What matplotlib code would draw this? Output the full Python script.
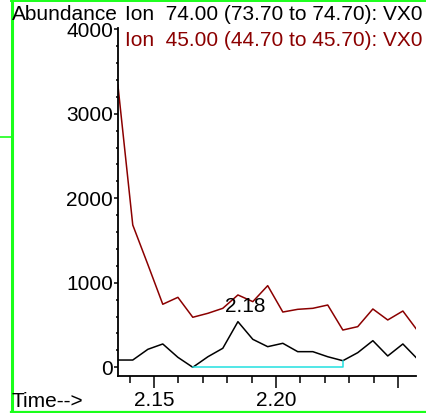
import matplotlib
matplotlib.use('Agg')
import matplotlib.pyplot as plt
from matplotlib.lines import Line2D
from matplotlib.ticker import MultipleLocator, FixedLocator

plt.rcParams['font.family'] = ['Liberation Sans', 'DejaVu Sans']

# retention time (min) of each scan
times = [2.1352, 2.1413, 2.1475, 2.1536, 2.1598, 2.1659, 2.1721, 2.1782, 2.1844,
         2.1905, 2.1966, 2.2028, 2.2089, 2.2151, 2.2212, 2.2274, 2.2335, 2.2397,
         2.2458, 2.2520, 2.2581]
# abundance of ion 74.00
ion74 = [86, 86, 213, 276, 118, 0, 125, 225, 540, 331, 244, 284, 185, 185, 125,
         78, 173, 315, 134, 276, 95]
# abundance of ion 45.00
ion45 = [3341, 1684, 1215, 746, 828, 592, 639, 698, 856, 777, 966, 654, 686, 698,
         737, 441, 481, 690, 560, 666, 430]

label74 = 'Ion  74.00 (73.70 to 74.70): VX0'
label45 = 'Ion  45.00 (44.70 to 45.70): VX0'
peak_label = '2.18'
base_start, base_end = 5, 15

W, H = 426, 413
fig = plt.figure(figsize=(W / 100, H / 100), dpi=100)
ax = fig.add_axes([118 / W, 1 - 376 / H, (416 - 118) / W, (376 - 28) / H])

ax.plot(times, ion45, color='#8b0000', lw=1.1, clip_on=True)
ax.plot(times, ion74, color='black', lw=1.1)

# integration baseline
ax.plot([times[base_start], times[base_end], times[base_end]],
        [0, 0, ion74[base_end]], color='#22e0e0', lw=1.1)

ipk = ion74.index(max(ion74))
ax.annotate(peak_label, (times[ipk], ion74[ipk]), xytext=(5, 4),
            textcoords='offset points', ha='center', va='bottom', fontsize=15)

ax.set_xlim(2.13525, 2.25738)
ax.set_ylim(-103, 4015)

ax.xaxis.set_major_locator(FixedLocator([2.15, 2.20, 2.25]))
ax.set_xticklabels(['2.15', '2.20', ''])
ax.xaxis.set_minor_locator(MultipleLocator(0.01))
ax.yaxis.set_major_locator(MultipleLocator(1000))
ax.yaxis.set_minor_locator(MultipleLocator(200))

ax.tick_params(axis='x', which='major', length=8.6, width=1.1, pad=2, labelsize=15)
ax.tick_params(axis='x', which='minor', length=5, width=1.1)
ax.tick_params(axis='y', which='major', length=3, width=1.1, pad=0.5, labelsize=15)
ax.tick_params(axis='y', which='minor', length=1.5, width=1.1)

for s in ['top', 'right']:
    ax.spines[s].set_visible(False)
for s in ['left', 'bottom']:
    ax.spines[s].set_linewidth(1.3)

fig.text(12 / W, 1 - 20 / H, 'Abundance', fontsize=15, va='baseline')
fig.text(125 / W, 1 - 20 / H, label74, fontsize=15, va='baseline', color='black')
fig.text(125 / W, 1 - 46.5 / H, label45, fontsize=15, va='baseline', color='#8b0000')
fig.text(12 / W, 1 - 407 / H, 'Time-->', fontsize=15, va='baseline')

# green frame
green = '#1aff1a'
fig.add_artist(Line2D([11.5 / W, 11.5 / W], [0, 1], color=green, lw=2.2))
fig.add_artist(Line2D([11 / W, 1], [1 - 0.8 / H, 1 - 0.8 / H], color=green, lw=1.4))
fig.add_artist(Line2D([11 / W, 1], [1 - 411.5 / H, 1 - 411.5 / H], color=green, lw=1.6))
fig.add_artist(Line2D([0, 11 / W], [1 - 137 / H, 1 - 137 / H], color=green, lw=1.2))

fig.savefig('out.png', dpi=100)
